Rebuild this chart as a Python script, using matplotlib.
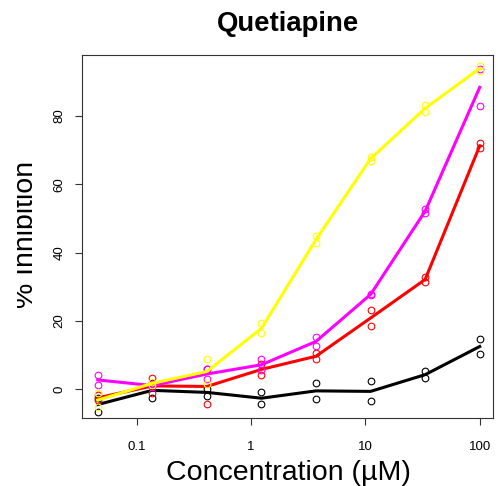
import numpy as np
import matplotlib
matplotlib.use("Agg")
import matplotlib.pyplot as plt
from matplotlib.transforms import Bbox, TransformedBbox
from matplotlib.ticker import FixedLocator, NullLocator

plt.rcParams['font.family'] = ['Liberation Sans', 'DejaVu Sans']

# concentrations in uM (3-fold dilution series)
conc = [0.0457, 0.137, 0.412, 1.235, 3.704, 11.11, 33.33, 100]

# % inhibition, two replicates per concentration
black_rep1 = [-2.5, 1.9, 0.0, -1.0, 1.7, 2.2, 5.3, 14.6]
black_rep2 = [-6.6, -2.7, -2.0, -4.4, -2.8, -3.6, 3.1, 10.3]
red_rep1 = [-1.9, 3.1, 5.8, 7.4, 10.5, 23.1, 32.7, 72.0]
red_rep2 = [-3.3, -1.3, -4.3, 4.1, 8.7, 18.5, 31.5, 70.5]
magenta_rep1 = [4.1, 1.5, 5.9, 8.7, 15.3, 27.9, 52.7, 93.8]
magenta_rep2 = [1.2, 0.5, 2.9, 5.5, 12.6, 27.5, 51.5, 83.0]
yellow_rep1 = [-1.3, 2.1, 8.8, 19.3, 44.8, 68.1, 83.2, 94.7]
yellow_rep2 = [-5.2, 1.2, 1.5, 16.3, 42.9, 66.9, 81.3, 93.2]

series = [
    ('black', black_rep1, black_rep2),
    ('#ff0000', red_rep1, red_rep2),
    ('#ff00ff', magenta_rep1, magenta_rep2),
    ('#ffff00', yellow_rep1, yellow_rep2),
]

xticks = [0.1, 1, 10, 100]
xticklabels = ['0.1', '1', '10', '100']
yticks = [0, 20, 40, 60, 80]

W, H = 498, 486
fig = plt.figure(figsize=(W / 100, H / 100), dpi=100)
ax = fig.add_axes([82 / W, 1 - 418 / H, (493 - 82) / W, (418 - 55) / H])

for col, r1, r2 in series:
    ax.plot(conc, r1, 'o', mfc='none', mec=col, ms=4.8, mew=0.8)
    ax.plot(conc, r2, 'o', mfc='none', mec=col, ms=4.8, mew=0.8)
    ax.plot(conc, np.mean([r1, r2], axis=0), '-', color=col, lw=2.2)

ax.set_xscale('log')
ax.set_xlim(0.03327, 130.7)
ax.set_ylim(-8.5, 97.88)
ax.xaxis.set_major_locator(FixedLocator(xticks))
ax.xaxis.set_minor_locator(NullLocator())
ax.set_xticklabels(xticklabels)
ax.set_yticks(yticks)

for sp in ax.spines.values():
    sp.set_linewidth(0.8)
    sp.set_color('#333333')

ax.tick_params(axis='x', length=5, width=0.8, pad=11.5, labelsize=9.5, color='#333333')
ax.tick_params(axis='y', length=5, width=0.8, pad=7, labelsize=9.5, color='#333333',
               labelrotation=90)
for lab in ax.get_yticklabels():
    lab.set_va('center')

fig.text(288 / W, 1 - 31 / H, 'Quetiapine', ha='center', va='baseline',
         fontsize=19.8, fontweight='bold')
fig.text(288 / W, 1 - 480 / H, 'Concentration (\u00b5M)', ha='center', va='baseline',
         fontsize=20.5)

# y label sits partly outside the figure region, so its top gets cut off
ylab = fig.text(39 / W, 1 - 234 / H, '% Inhibition', ha='right', va='center',
                rotation=90, fontsize=20.5)
ylab.set_clip_box(TransformedBbox(Bbox([[17 / W, 0], [1, 1]]), fig.transFigure))
ylab.set_clip_on(True)

fig.savefig('out.png', dpi=100)
